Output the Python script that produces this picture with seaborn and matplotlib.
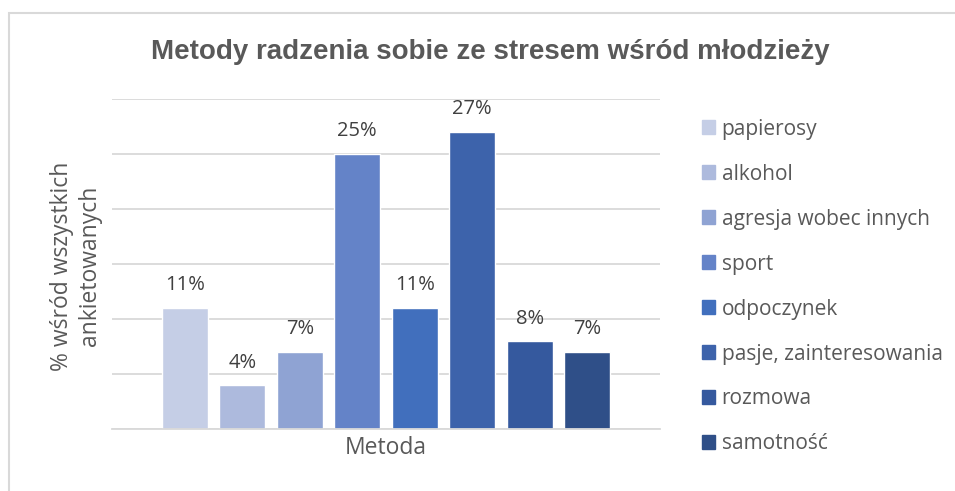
import matplotlib
matplotlib.use("Agg")
import matplotlib.pyplot as plt
import matplotlib.patches as mpatches
import seaborn as sns
import pandas as pd

methods = ["papierosy", "alkohol", "agresja wobec innych", "sport",
           "odpoczynek", "pasje, zainteresowania", "rozmowa", "samotność"]
values = [11, 4, 7, 25, 11, 27, 8, 7]
labels = ["11%", "4%", "7%", "25%", "11%", "27%", "8%", "7%"]
colors = ["#C5CEE6", "#ADBADD", "#8FA3D3", "#6483C8", "#416FBD",
          "#3D63AB", "#35599E", "#2F4F88"]

df = pd.DataFrame({"metoda": methods, "procent": values})

sns.set_style("white")
plt.rcParams["font.family"] = ["Open Sans", "DejaVu Sans"]
txt = "#595959"

fig = plt.figure(figsize=(9.55, 4.91), dpi=100)
ax = fig.add_axes([112 / 955, 1 - 429 / 491, 548 / 955, 330 / 491])

sns.barplot(data=df, x="metoda", y="procent", hue="metoda", palette=colors,
            width=0.8, legend=False, ax=ax, saturation=1)

ax.set_ylim(0, 30)
ax.set_xlim(-1.27, 8.27)
ax.set_yticks(range(0, 31, 5))
ax.yaxis.grid(True, color="#D9D9D9", linewidth=1.3)
ax.set_axisbelow(True)
ax.tick_params(left=False, bottom=False, labelleft=False, labelbottom=False)
for s in ["top", "right", "left"]:
    ax.spines[s].set_visible(False)
ax.spines["bottom"].set_color("#D9D9D9")
ax.spines["bottom"].set_linewidth(1.3)

for i, (v, lab) in enumerate(zip(values, labels)):
    ax.annotate(lab, (i, v), xytext=(0, 9), textcoords="offset points",
                ha="center", va="bottom", fontsize=14.5, color="#404040")

ax.set_xlabel("Metoda", fontsize=16.5, color=txt, labelpad=5)
ax.set_ylabel("")
fig.text(76 / 955, 1 - 266 / 491, "% wśród wszystkich\nankietowanych",
         rotation=90, ha="center", va="center", fontsize=16.5, color=txt,
         linespacing=1.25)

fig.text(490 / 955, 1 - 52 / 491, "Metody radzenia sobie ze stresem wśród młodzieży",
         ha="center", va="center", fontsize=20, fontweight="bold",
         color=txt, family="Liberation Sans")

handles = [mpatches.Patch(color=c, label=m) for c, m in zip(colors, methods)]
leg = fig.legend(handles=handles, loc="upper left",
                 bbox_to_anchor=(683 / 955, 1 - 100 / 491),
                 frameon=False, fontsize=15, labelspacing=1.15,
                 handlelength=0.65, handleheight=0.65, handletextpad=0.3)
for t in leg.get_texts():
    t.set_color(txt)

fig.patches.append(mpatches.Rectangle((9 / 955, -0.1), 2, 1 - 13 / 491 + 0.1,
                                      transform=fig.transFigure, fill=False,
                                      edgecolor="#D9D9D9", linewidth=1.5))

fig.savefig("out.png", dpi=100)
